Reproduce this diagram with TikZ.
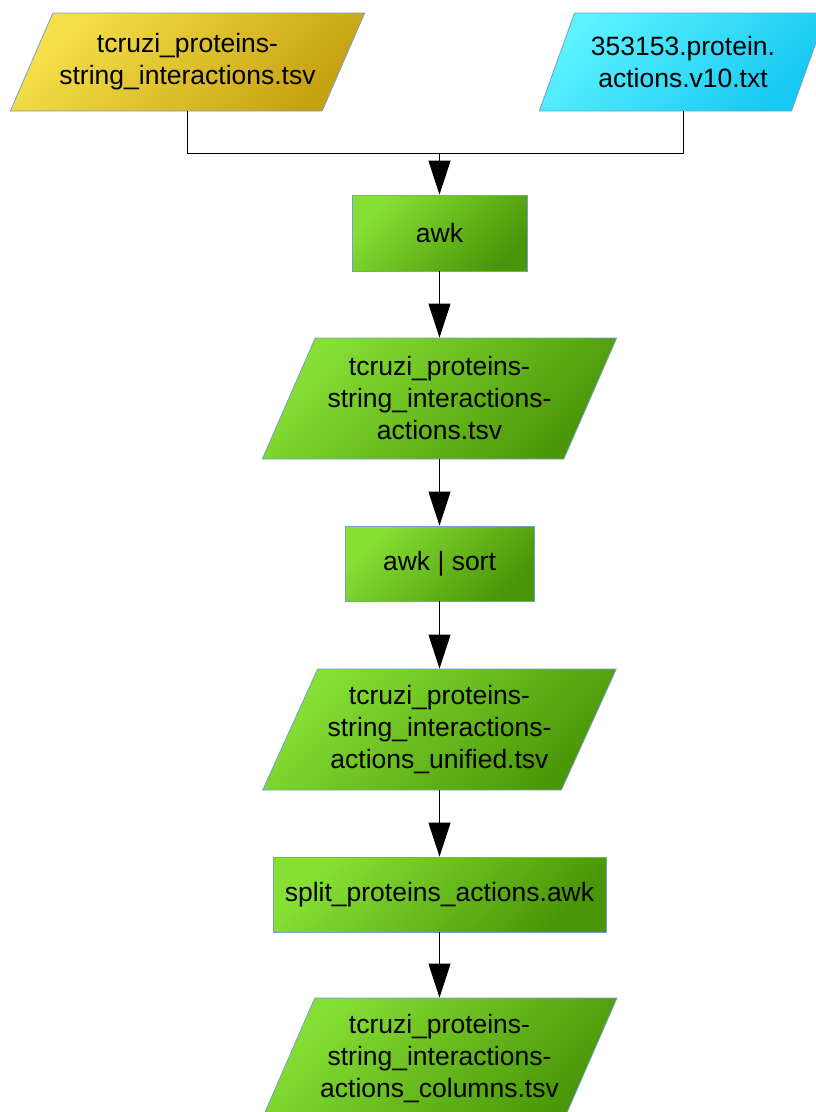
\documentclass[tikz,border=0pt]{standalone}
\usepackage{fontspec}
\setmainfont{Liberation Sans}
\usetikzlibrary{shapes.geometric,arrows.meta}
\definecolor{edgeblue}{RGB}{114,159,207}
\definecolor{grnlight}{RGB}{134,224,52}
\definecolor{grndark}{RGB}{74,150,8}
\definecolor{yellight}{RGB}{246,224,74}
\definecolor{yeldark}{RGB}{198,162,18}
\definecolor{cyanlight}{RGB}{92,242,255}
\definecolor{cyandark}{RGB}{22,200,242}
\begin{document}
\begin{tikzpicture}[x=1pt,y=-1pt,
  every node/.style={font=\fontsize{26.5}{32}\selectfont, align=center, inner sep=0pt},
  procbox/.style={rectangle, draw=edgeblue, line width=0.8pt,
    top color=grnlight, bottom color=grndark, shading angle=45},
  datafile/.style={trapezium, trapezium stretches=true, draw=edgeblue, line width=0.8pt,
    minimum width=355pt, minimum height=121pt,
    trapezium left angle=60.3, trapezium right angle=119.7,
    top color=grnlight, bottom color=grndark, shading angle=45},
  flow/.style={line width=0.9pt, -{Triangle[length=34pt,width=22pt]}},
  link/.style={line width=0.9pt}]
\useasboundingbox (0,0) rectangle (816,1112);

% input files
\node[datafile, minimum width=355pt, minimum height=98pt,
  trapezium left angle=54.5, trapezium right angle=125.5,
  top color=yellight, bottom color=yeldark, shading angle=45]
  (tsv) at (187.5,62) {tcruzi\_proteins-\\string\_interactions.tsv};
\node[datafile, minimum width=288pt, minimum height=98pt,
  trapezium left angle=59.8, trapezium right angle=120.2,
  top color=cyanlight, bottom color=cyandark, shading angle=45]
  (actions) at (683,62) {353153.protein.\\actions.v10.txt};

% pipeline
\node[procbox, minimum width=175pt, minimum height=76pt] (awk) at (439.5,233) {awk};
\node[datafile] (joined) at (439.5,398.5) {tcruzi\_proteins-\\string\_interactions-\\actions.tsv};
\node[procbox, minimum width=189pt, minimum height=75pt] (sort) at (439.5,563.5) {awk | sort};
\node[datafile] (unified) at (439.5,729.5) {tcruzi\_proteins-\\string\_interactions-\\actions\_unified.tsv};
\node[procbox, minimum width=333pt, minimum height=75pt] (split) at (439.5,894.5) {split\_proteins\_actions.awk};
\node[datafile] (columns) at (439.5,1058.5) {tcruzi\_proteins-\\string\_interactions-\\actions\_columns.tsv};

% connectors
\coordinate (merge) at (439.5,153);
\draw[link] (tsv.center |- tsv.south) |- (merge);
\draw[link] (actions.center |- actions.south) |- (merge);
\draw[flow] (merge) -- (awk.north);
\draw[flow] (awk.south) -- (awk.south |- joined.north);
\draw[flow] (awk.south |- joined.south) -- (sort.north);
\draw[flow] (sort.south) -- (sort.south |- unified.north);
\draw[flow] (sort.south |- unified.south) -- (split.north);
\draw[flow] (split.south) -- (split.south |- columns.north);
\end{tikzpicture}
\end{document}
